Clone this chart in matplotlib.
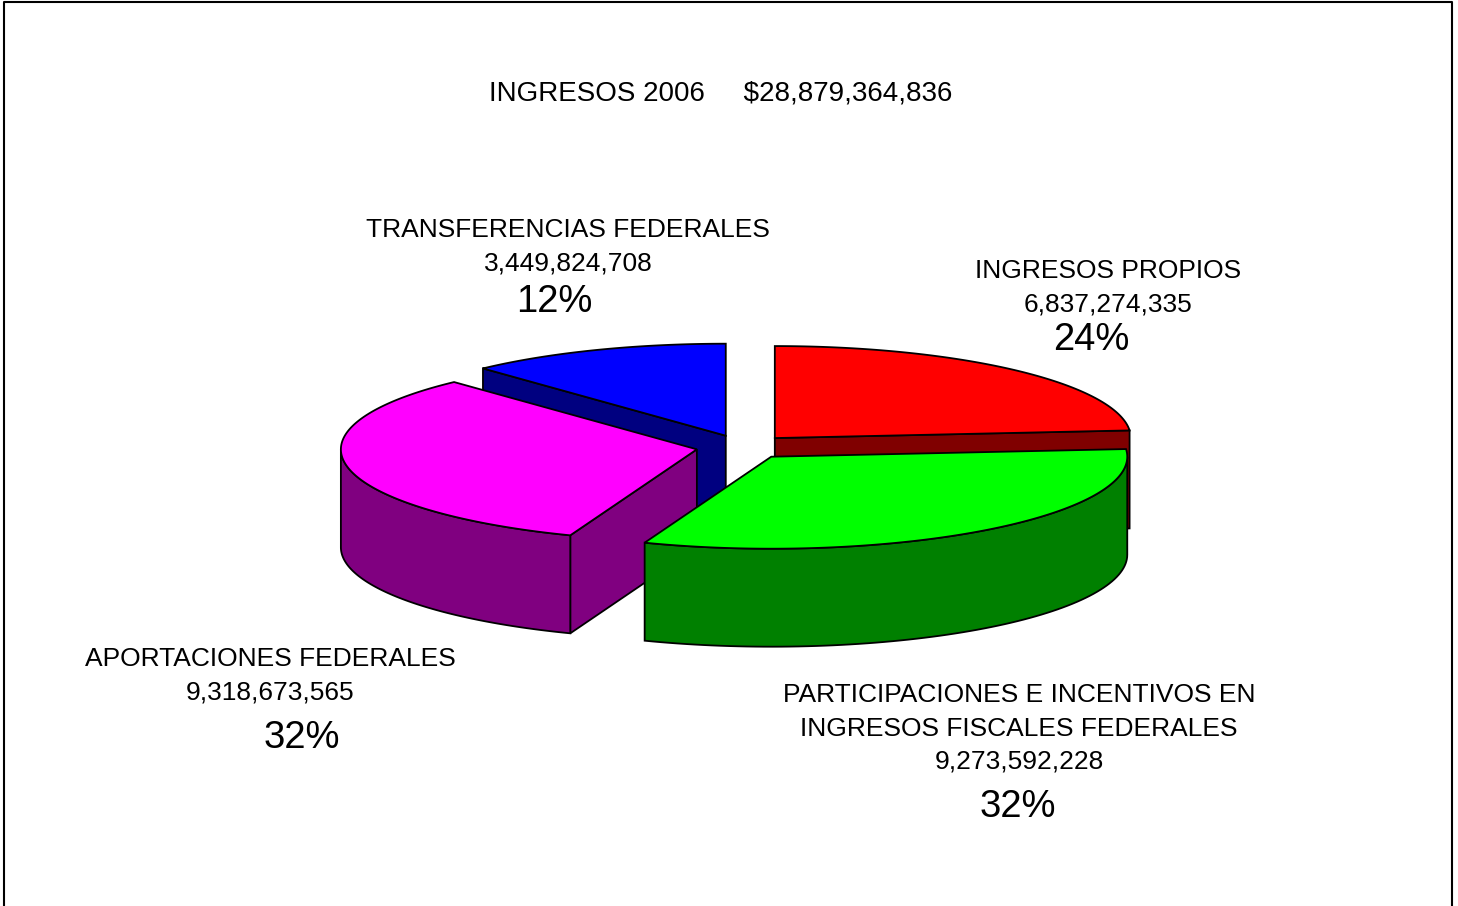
import numpy as np
import matplotlib.pyplot as plt
from matplotlib.patches import Polygon

plt.rcParams['font.family'] = ['Liberation Sans', 'DejaVu Sans']

# datos
categorias = ['INGRESOS PROPIOS',
              'PARTICIPACIONES E INCENTIVOS EN\nINGRESOS FISCALES FEDERALES',
              'APORTACIONES FEDERALES',
              'TRANSFERENCIAS FEDERALES']
montos = [6837274335, 9273592228, 9318673565, 3449824708]
color_sup = ['#FF0000', '#00FF00', '#FF00FF', '#0000FF']
color_lado = ['#800000', '#008000', '#800080', '#000080']

total = sum(montos)

# posiciones de las etiquetas (pixeles): x nombre, y primera linea, x porcentaje, y porcentaje
pos_etiq = [(1108, 278, 1091, 350),
            (1019, 702, 1018, 817),
            (270, 666, 302, 748),
            (568, 237, 554, 312)]

# geometria del pastel 3D (pixeles)
cx, cy = 743, 447
a, b = 356, 92      # radios de la elipse
d = 98              # grosor
e = 0.132           # separacion de las rebanadas

fig = plt.figure(figsize=(14.58, 9.06), dpi=100)
ax = fig.add_axes([0, 0, 1, 1])
ax.set_xlim(0, 1458)
ax.set_ylim(906, 0)
ax.axis('off')

# marco
ax.plot([4, 4, 1452, 1452], [906, 2, 2, 906], color='black', lw=1.5)


def borde(t, ox, oy, dy=0):
    r = np.radians(t)
    return ox + a * np.sin(r), oy - b * np.cos(r) + dy


fr = np.array(montos) / total
fin = np.cumsum(fr) * 360
ini = fin - fr * 360

lw = 1.3
for i in [3, 0, 2, 1]:
    t0, t1 = ini[i], fin[i]
    m = np.radians((t0 + t1) / 2)
    ox = cx + e * a * np.sin(m)
    oy = cy - e * b * np.cos(m)

    caras = []
    if np.sin(np.radians(t0)) < -1e-6:
        x1, y1 = borde(t0, ox, oy)
        caras.append([(ox, oy), (x1, y1), (x1, y1 + d), (ox, oy + d)])
    if np.sin(np.radians(t1)) > 1e-6:
        x1, y1 = borde(t1, ox, oy)
        caras.append([(ox, oy), (x1, y1), (x1, y1 + d), (ox, oy + d)])
    s, f = max(t0, 90), min(t1, 270)
    if s < f:
        ts = np.linspace(s, f, 80)
        arriba = [borde(t, ox, oy) for t in ts]
        abajo = [borde(t, ox, oy, d) for t in ts[::-1]]
        caras.append(arriba + abajo)
    for c in caras:
        ax.add_patch(Polygon(c, closed=True, fc=color_lado[i], ec='black', lw=lw, joinstyle='miter'))

    ts = np.linspace(t0, t1, 150)
    sup = [(ox, oy)] + [borde(t, ox, oy) for t in ts]
    ax.add_patch(Polygon(sup, closed=True, fc=color_sup[i], ec='black', lw=lw, joinstyle='miter'))

# titulo
ax.text(721, 100, 'INGRESOS 2006     ${:,}'.format(total), ha='center', va='baseline', fontsize=20)

# etiquetas
for i in range(len(categorias)):
    xn, yn, xp, yp = pos_etiq[i]
    lineas = categorias[i].split('\n') + ['{:,}'.format(montos[i])]
    for k, txt in enumerate(lineas):
        ax.text(xn, yn + 33.5 * k, txt, ha='center', va='baseline', fontsize=19)
    ax.text(xp, yp, '{:.0f}%'.format(100 * montos[i] / total), ha='center', va='baseline', fontsize=27.5)

fig.savefig('out.png', dpi=100)
